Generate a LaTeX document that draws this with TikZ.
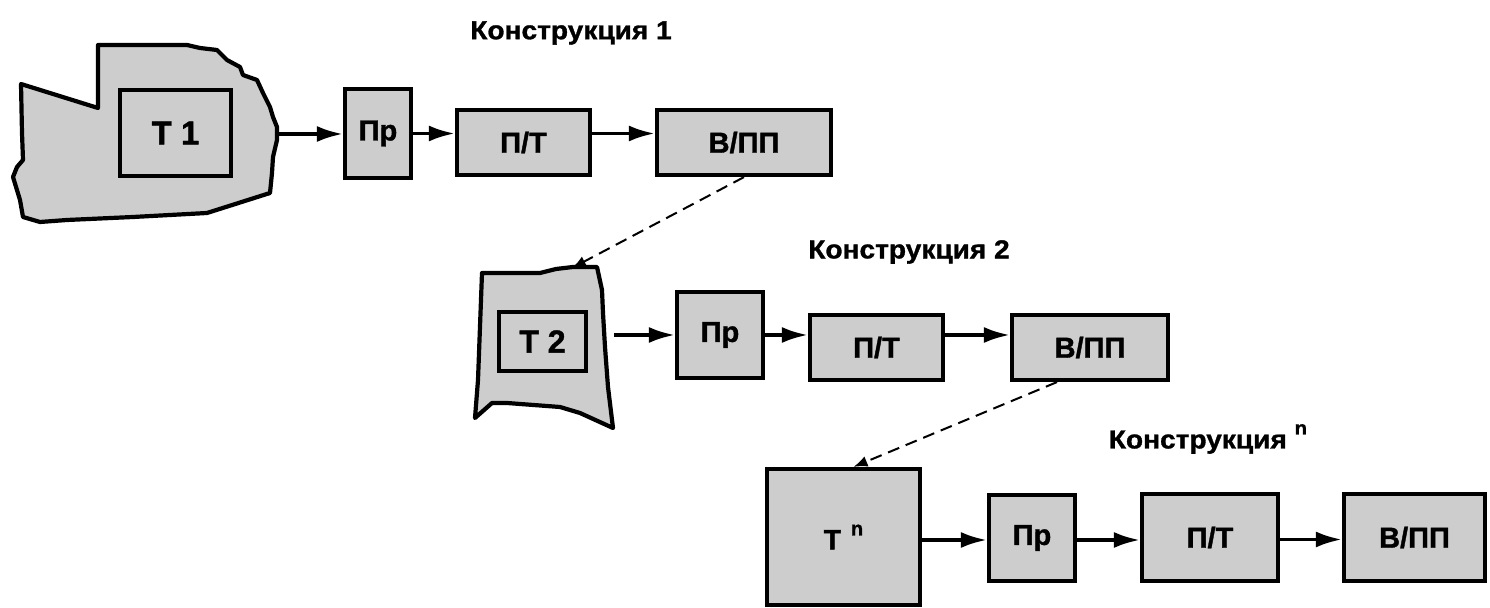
\documentclass[tikz,border=0pt]{standalone}
\usepackage{fontspec}
\setmainfont{Liberation Sans}[BoldFeatures={FakeBold=1.2}]
\newfontfamily\ttlfont{Liberation Sans}[FakeStretch=1.08,BoldFeatures={FakeBold=1.2}]
\usetikzlibrary{arrows.meta}
\definecolor{boxgray}{RGB}{205,205,205}
\tikzset{
  box/.style={draw=black, fill=boxgray, line width=2.1pt, inner sep=0pt, font=\fontsize{14.5}{16}\selectfont\bfseries},
  blob/.style={draw=black, fill=boxgray, line width=2.1pt, line join=round},
  flow/.style={line width=1.8pt, -{Latex[length=13pt,width=8pt]}},
  link/.style={line width=1pt, dash pattern=on 6pt off 3.5pt, -{Latex[length=7pt,width=5.5pt]}},
  ttl/.style={font=\fontsize{13}{15}\selectfont\ttlfont\bfseries, inner sep=0pt}
}
\begin{document}
\begin{tikzpicture}[x=0.5pt,y=-0.5pt]
\useasboundingbox (0,0) rectangle (1490,608);
% ---- Row 1
\node[ttl] (title1) at (571,33) {Конструкция 1};
\draw[blob] (21,84) -- (98,108) -- (98,45) -- (187,45) -- (200,48) -- (217,50) -- (227,60) -- (240,67) -- (243,75) -- (257,80) -- (263,93) -- (270,107) -- (273,117) -- (277,127) -- (277,140) -- (273,157) -- (272,173) -- (270,193) -- (207,213) -- (133,217) -- (67,220) -- (40,222) -- (23,217) -- (20,200) -- (13,177) -- (17,167) -- (23,160) -- (22,133) -- cycle;
\coordinate (b1) at (278,134);
\node[box, minimum width=55.5pt, minimum height=43pt, font=\fontsize{16.5}{18}\selectfont\bfseries] (T1) at (175.5,133) {Т 1};
\node[box, minimum width=33pt, minimum height=44.5pt] (Pr1) at (378,133.5) {Пр};
\node[box, minimum width=66.5pt, minimum height=32.5pt] (PT1) at (523.5,142.5) {П/Т};
\node[box, minimum width=87pt, minimum height=32.5pt] (VP1) at (744,142.5) {В/ПП};
\draw[flow] (b1) -- (b1 -| Pr1.west);
\draw[flow] (Pr1.east) -- (Pr1.east -| PT1.west);
\draw[flow] (PT1.east |- Pr1.east) -- (VP1.west |- Pr1.east);
% ---- Row 2
\node[ttl] (title2) at (909,252) {Конструкция 2};
\draw[blob] (482,273) -- (540,273) -- (556,269) -- (573,267) -- (597,267) -- (602,290) -- (603,313) -- (605,347) -- (608,387) -- (613,428) -- (580,413) -- (560,407) -- (507,403) -- (492,403) -- (475,418) -- (478,380) -- cycle;
\coordinate (t2top) at (572,268);
\coordinate (b2) at (614,335);
\node[box, minimum width=43.5pt, minimum height=29.5pt, font=\fontsize{16}{18}\selectfont\bfseries] (T2) at (542.5,341.5) {Т 2};
\node[box, minimum width=43pt, minimum height=43pt] (Pr2) at (720,335) {Пр};
\node[box, minimum width=66.5pt, minimum height=32.5pt] (PT2) at (876.5,347.5) {П/Т};
\node[box, minimum width=78pt, minimum height=32.5pt] (VP2) at (1090,347.5) {В/ПП};
\draw[flow] (b2) -- (b2 -| Pr2.west);
\draw[flow] (Pr2.east) -- (Pr2.east -| PT2.west);
\draw[flow] (PT2.east |- Pr2.east) -- (VP2.west |- Pr2.east);
\draw[link] (VP1.south) -- (t2top);
% ---- Row 3
\node[ttl] (title3) at (1208,439) {Конструкция \raisebox{7pt}{\fontsize{9.5}{9.5}\selectfont n}};
\node[box, minimum width=76.5pt, minimum height=68pt, font=\fontsize{14}{16}\selectfont\bfseries] (Tn) at (843.5,537) {Т\hspace{5pt}\raisebox{7pt}{\fontsize{10}{10}\selectfont n}};
\node[box, minimum width=43pt, minimum height=43pt] (Pr3) at (1032,538) {Пр};
\node[box, minimum width=68pt, minimum height=43.5pt] (PT3) at (1210,537.5) {П/Т};
\node[box, minimum width=70.5pt, minimum height=43.5pt] (VP3) at (1414.5,537.5) {В/ПП};
\draw[flow] ([yshift=-1.5pt]Tn.east) -- ([yshift=-1.5pt]Tn.east -| Pr3.west);
\draw[flow] ([yshift=-1pt]Pr3.east) -- ([yshift=-1pt]Pr3.east -| PT3.west);
\draw[flow] ([yshift=-1pt]PT3.east) -- ([yshift=-1pt]PT3.east -| VP3.west);
\draw[link] ([xshift=-16.5pt]VP2.south) -- ([xshift=5pt]Tn.north);
\end{tikzpicture}
\end{document}
